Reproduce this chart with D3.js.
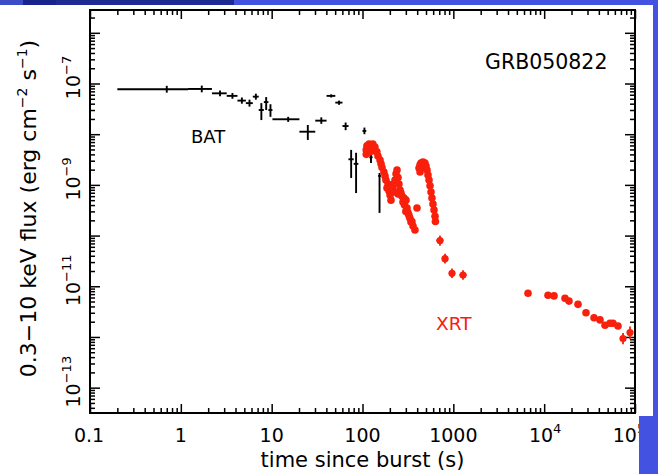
<!DOCTYPE html>
<html><head><meta charset="utf-8">
<script src="https://cdn.jsdelivr.net/npm/d3@7"></script>
<style>body{margin:0;background:#fff}svg{display:block}</style>
</head><body>
<script>
// ---------------- data ----------------
// BAT (black crosses): bin centre, bin edges, flux and flux errors
const batT   = [0.7, 1.7, 2.7, 3.7, 4.7, 5.7, 6.7, 7.7, 8.7, 9.7, 15.2, 25, 35.2, 45.2, 55.2, 65.2, 75, 85, 105, 124, 154];
const batTlo = [0.2, 1.2, 2.2, 3.2, 4.2, 5.2, 6.2, 7.2, 8.2, 9.2, 10.2, 20.2, 30.2, 40.2, 50.2, 60.2, 70, 80, 100, 119, 149];
const batThi = [1.2, 2.2, 3.2, 4.2, 5.2, 6.2, 7.2, 8.2, 9.2, 10.2, 20.2, 30.2, 40.2, 50.2, 60.2, 70.2, 80, 90, 110, 129, 159];
const batF   = [7.7e-8, 7.8e-8, 6.4e-8, 5.7e-8, 4.6e-8, 4.1e-8, 5.5e-8, 3.0e-8, 4.3e-8, 3.0e-8, 1.97e-8, 1.12e-8, 1.85e-8, 5.7e-8, 4.2e-8, 1.45e-8, 3.2e-9, 2.6e-9, 1.16e-8, 3.5e-9, 1.5e-9];
const batFlo = [6.6e-8, 6.7e-8, 5.6e-8, 5.0e-8, 4.0e-8, 3.5e-8, 4.8e-8, 1.9e-8, 3.0e-8, 2.2e-8, 1.75e-8, 7.7e-9, 1.6e-8, 5.3e-8, 3.8e-8, 1.2e-8, 1.37e-9, 6.9e-10, 1.0e-8, 2.7e-9, 2.8e-10];
const batFhi = [9.0e-8, 9.1e-8, 7.3e-8, 6.5e-8, 5.3e-8, 4.8e-8, 6.3e-8, 4.1e-8, 5.4e-8, 3.9e-8, 2.2e-8, 1.52e-8, 2.15e-8, 6.1e-8, 4.6e-8, 1.7e-8, 4.9e-9, 4.3e-9, 1.35e-8, 4.3e-9, 1.72e-9];

// XRT (red dots), dense light curve
const xrtT = [110, 112, 118, 124, 130, 137, 110, 121, 134, 144, 148, 156, 160, 164, 172, 177, 181, 191, 186, 196, 201, 206,
              211, 216, 222, 228, 234, 240, 246, 252, 259, 246, 265, 272, 286, 290, 301, 279, 300, 309, 317, 325, 333, 342, 350, 360, 378, 398,
              419, 430, 441, 452, 463, 475, 487, 500, 513, 430, 526, 540, 554, 568, 582, 597, 613, 629, 635,
              6640, 11030, 12830, 16960, 18770, 23580, 28880, 35390, 41190, 46760, 53070, 57280, 65010];
const xrtF = [4.9e-9, 5.9e-9, 6.4e-9, 6.1e-9, 6.4e-9, 5.6e-9, 4.0e-9, 4.5e-9, 4.7e-9, 4.5e-9, 3.7e-9, 3.1e-9, 2.6e-9, 2.2e-9, 1.8e-9, 1.5e-9, 1.25e-9, 1.04e-9, 8.7e-10, 7.6e-10, 6.3e-10, 5.0e-10,
              1.0e-9, 8.7e-10, 7.25e-10, 1.25e-9, 1.65e-9, 1.97e-9, 1.4e-9, 1.04e-9, 7.9e-10, 6.6e-10, 7.0e-10, 6.0e-10, 5.5e-10, 4.0e-10, 5.0e-10, 4.6e-10, 3.0e-10, 3.5e-10, 2.8e-10, 2.5e-10, 2.2e-10, 1.86e-10, 1.9e-10, 1.55e-10, 1.29e-10, 3.5e-10,
              2.16e-9, 2.5e-9, 2.7e-9, 2.4e-9, 2.83e-9, 2.2e-9, 2.7e-9, 2.36e-9, 1.97e-9, 1.8e-9, 1.57e-9, 1.25e-9, 9.6e-10, 7.25e-10, 5.5e-10, 4.2e-10, 3.2e-10, 2.4e-10, 1.9e-10,
              7.3e-12, 6.65e-12, 6.45e-12, 5.8e-12, 5.1e-12, 4.4e-12, 3.0e-12, 2.4e-12, 2.17e-12, 1.7e-12, 1.86e-12, 1.86e-12, 1.65e-12];

// XRT points drawn with error bars
const xrtBinT   = [713, 810, 967, 1278, 73830, 88130];
const xrtBinTlo = [650, 745, 900, 1170, 69000, 82000];
const xrtBinThi = [780, 880, 1040, 1400, 78500, 94000];
const xrtBinF   = [8.0e-11, 3.5e-11, 1.8e-11, 1.67e-11, 9.3e-13, 1.22e-12];
const xrtBinFlo = [6.3e-11, 2.8e-11, 1.45e-11, 1.35e-11, 7.2e-13, 9.0e-13];
const xrtBinFhi = [1.0e-10, 4.4e-11, 2.25e-11, 2.07e-11, 1.2e-12, 1.6e-12];

// axis ticks / labels
const xTickVals = [0.1, 1, 10, 100, 1000, 1e4, 1e5];
const xTickLabels = ["0.1", "1", "10", "100", "1000", "10^4", "10^5"];
const yTickVals = [1e-7, 1e-9, 1e-11, 1e-13];
const yTickLabels = ["10^\u22127", "10^\u22129", "10^\u221211", "10^\u221213"];

// ---------------- drawing ----------------
const W = 658, H = 474;
const FONT = "DejaVu Sans";
const RED = "#f8200c";
const svg = d3.select("body").append("svg").attr("width", W).attr("height", H)
  .style("font-family", FONT);

const L = 90, R = 635, T = 10, B = 413;
const x = d3.scaleLog().domain([0.1, 1e5]).range([L, R]);
const y = d3.scaleLog().domain([Math.pow(10, -13.5), Math.pow(10, -5.55)]).range([B, T]);

// minor / major tick values
const xMajor = d3.range(-1, 6).map(e => Math.pow(10, e));
const xMinor = [];
d3.range(-1, 5).forEach(e => { for (let k = 2; k <= 9; k++) xMinor.push(k * Math.pow(10, e)); });
const yMajor = d3.range(-13, -5).map(e => Math.pow(10, e));
const yMinor = [];
d3.range(-14, -5).forEach(e => { for (let k = 2; k <= 9; k++) { const v = k * Math.pow(10, e); if (v >= y.domain()[0] && v <= y.domain()[1]) yMinor.push(v); } });

function axisG(gen, tr) {
  const g = svg.append("g").attr("transform", tr).call(gen);
  g.select(".domain").remove();
  g.selectAll("line").attr("stroke", "#000").attr("stroke-width", 1.5);
  return g;
}
const MAJ = 9, MIN = 5;
axisG(d3.axisBottom(x).tickValues(xMajor).tickSize(-MAJ).tickFormat(""), `translate(0,${B})`);
axisG(d3.axisBottom(x).tickValues(xMinor).tickSize(-MIN).tickFormat(""), `translate(0,${B})`);
axisG(d3.axisTop(x).tickValues(xMajor).tickSize(-MAJ).tickFormat(""), `translate(0,${T})`);
axisG(d3.axisTop(x).tickValues(xMinor).tickSize(-MIN).tickFormat(""), `translate(0,${T})`);
axisG(d3.axisLeft(y).tickValues(yMajor).tickSize(-MAJ - 1).tickFormat(""), `translate(${L},0)`);
axisG(d3.axisLeft(y).tickValues(yMinor).tickSize(-MIN).tickFormat(""), `translate(${L},0)`);
axisG(d3.axisRight(y).tickValues(yMajor).tickSize(-MAJ - 1).tickFormat(""), `translate(${R},0)`);
axisG(d3.axisRight(y).tickValues(yMinor).tickSize(-MIN).tickFormat(""), `translate(${R},0)`);

// frame
svg.append("rect").attr("x", L).attr("y", T).attr("width", R - L).attr("height", B - T)
  .attr("fill", "none").attr("stroke", "#000").attr("stroke-width", 2);

// label with optional superscript "base^exp"
function supText(sel, label, size, supSize, supDy) {
  const parts = label.split("^");
  sel.append("tspan").text(parts[0]).attr("font-size", size);
  if (parts.length > 1) sel.append("tspan").text(parts[1]).attr("font-size", supSize).attr("dy", supDy);
}

// x tick labels
const xLabelShift = [-1, 0, 0, 0, 0, 1, -6];
xTickVals.forEach((v, i) => {
  const t = svg.append("text").attr("x", x(v) + xLabelShift[i]).attr("y", 442)
    .attr("text-anchor", "middle").attr("fill", "#000");
  supText(t, xTickLabels[i], 19, 13, -9);
});
// y tick labels (rotated)
yTickVals.forEach((v, i) => {
  const t = svg.append("text").attr("transform", `translate(80,${y(v) - 6}) rotate(-90)`)
    .attr("text-anchor", "middle").attr("fill", "#000");
  supText(t, yTickLabels[i], 19, 13, -9);
});

// axis titles
svg.append("text").attr("x", (L + R) / 2).attr("y", 467).attr("text-anchor", "middle")
  .attr("font-size", 21).attr("fill", "#000").text("time since burst (s)");
const yt = svg.append("text").attr("transform", `translate(36,${(T + B) / 2 - 3}) rotate(-90)`)
  .attr("text-anchor", "middle").attr("font-size", 22).attr("fill", "#000");
yt.append("tspan").text("0.3\u221210 keV flux (erg cm");
yt.append("tspan").text("\u22122").attr("font-size", 14).attr("dy", -9);
yt.append("tspan").text(" s").attr("dy", 9);
yt.append("tspan").text("\u22121").attr("font-size", 14).attr("dy", -9);
yt.append("tspan").text(")").attr("dy", 9);

// in-plot labels
svg.append("text").attr("x", 485).attr("y", 69).attr("font-size", 20.5).attr("fill", "#000").text("GRB050822");
svg.append("text").attr("x", 191).attr("y", 143).attr("font-size", 18).attr("fill", "#000").text("BAT");
svg.append("text").attr("x", 436).attr("y", 330).attr("font-size", 18.5).attr("fill", RED).text("XRT");

// BAT crosses
const bat = svg.append("g").attr("stroke", "#000").attr("stroke-width", 1.9).attr("fill", "none");
batT.forEach((t, i) => {
  bat.append("line").attr("x1", x(batTlo[i])).attr("x2", x(batThi[i])).attr("y1", y(batF[i])).attr("y2", y(batF[i]));
  bat.append("line").attr("x1", x(t)).attr("x2", x(t)).attr("y1", y(batFlo[i])).attr("y2", y(batFhi[i]));
});

// XRT error-bar points
const xe = svg.append("g").attr("stroke", RED).attr("stroke-width", 1.8);
xrtBinT.forEach((t, i) => {
  xe.append("line").attr("x1", x(xrtBinTlo[i])).attr("x2", x(xrtBinThi[i])).attr("y1", y(xrtBinF[i])).attr("y2", y(xrtBinF[i]));
  xe.append("line").attr("x1", x(t)).attr("x2", x(t)).attr("y1", y(xrtBinFlo[i])).attr("y2", y(xrtBinFhi[i]));
});
svg.append("g").selectAll("circle").data(xrtBinT).join("circle")
  .attr("cx", d => x(d)).attr("cy", (d, i) => y(xrtBinF[i])).attr("r", 3.6).attr("fill", RED);

// XRT dots
svg.append("g").selectAll("circle").data(xrtT).join("circle")
  .attr("cx", d => x(d)).attr("cy", (d, i) => y(xrtF[i])).attr("r", 3.8).attr("fill", RED);

// slide background edges visible in the reference
svg.append("rect").attr("x", 0).attr("y", 0).attr("width", 23).attr("height", 5).attr("fill", "#3b4cc6");
svg.append("rect").attr("x", 23).attr("y", 0).attr("width", 33).attr("height", 5).attr("fill", "#17248a");
svg.append("rect").attr("x", 56).attr("y", 0).attr("width", 178).attr("height", 5).attr("fill", "#1e2c92");
svg.append("rect").attr("x", 234).attr("y", 0).attr("width", W - 234).attr("height", 5).attr("fill", "#4452e2");
svg.append("rect").attr("x", 653).attr("y", 0).attr("width", 5).attr("height", H).attr("fill", "#4452e2");
svg.append("rect").attr("x", 639).attr("y", 416).attr("width", W - 639).attr("height", H - 416).attr("fill", "#4452e2");
</script>
</body></html>
